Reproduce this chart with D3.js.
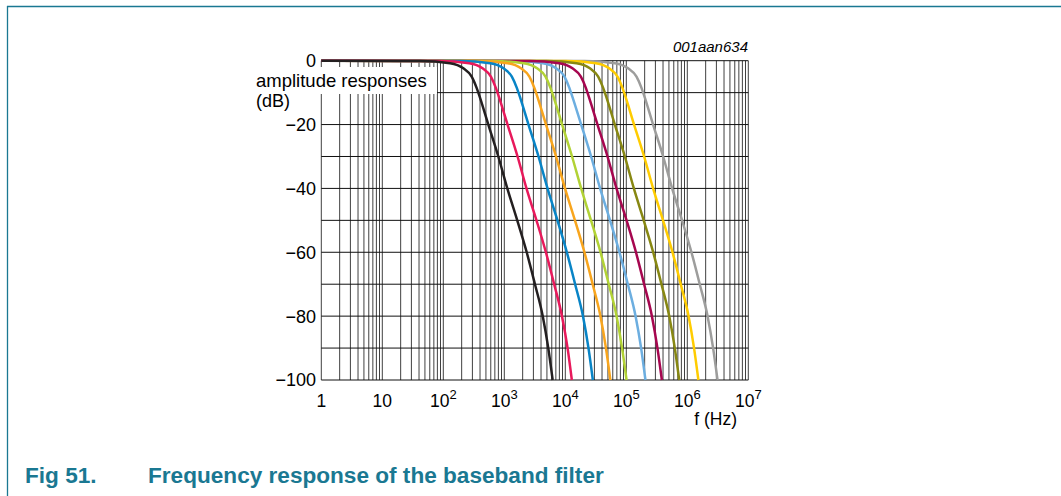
<!DOCTYPE html>
<html>
<head>
<meta charset="utf-8">
<script src="https://cdn.jsdelivr.net/npm/d3@7"></script>
<style>
  body { margin: 0; background: #fff; }
  svg { display: block; font-family: "Liberation Sans", Arial, sans-serif; }
</style>
</head>
<body>
<div id="chart"></div>
<script>
// amplitude levels (dB) shared by every curve
var levels = [0, -0.1, -0.8, -2.4, -5, -8.6, -10, -20, -30, -40, -50, -60, -70, -80, -90, -100];

// frequency (Hz) where each curve reaches the levels above
var fBlack  = [1, 41.5, 129, 213, 292, 353, 375, 547, 798, 1120, 1630, 2330, 3180, 4270, 5260, 6210];
var fPink   = [1, 85.7, 266, 440, 603, 729, 774, 1130, 1650, 2310, 3370, 4810, 6570, 8820, 10900, 12800];
var fBlue   = [1, 189, 588, 971, 1330, 1610, 1710, 2490, 3640, 5110, 7430, 10600, 14500, 19500, 24000, 28300];
var fOrange = [1, 366, 1140, 1880, 2580, 3120, 3310, 4830, 7050, 9890, 14400, 20600, 28100, 37700, 46400, 54800];
var fLime   = [1, 673, 2090, 3450, 4740, 5730, 6080, 8870, 12900, 18200, 26400, 37800, 51600, 69300, 85300, 101000];
var fSky    = [1, 1380, 4280, 7070, 9690, 11700, 12400, 18200, 26500, 37200, 54100, 77300, 106000, 142000, 175000, 206000];
var fMaroon = [1, 2560, 7950, 13100, 18000, 21800, 23100, 33700, 49200, 69100, 101000, 144000, 196000, 263000, 324000, 383000];
var fOlive  = [1, 4920, 15300, 25300, 34600, 41900, 44500, 64900, 94600, 133000, 193000, 276000, 377000, 506000, 624000, 737000];
var fYellow = [1, 10200, 31700, 52300, 71700, 86700, 92100, 134000, 196000, 275000, 400000, 572000, 781000, 1050000, 1290000, 1520000];
var fGrey   = [1, 20900, 65000, 107000, 147000, 178000, 189000, 275000, 402000, 564000, 821000, 1170000, 1600000, 2150000, 2650000, 3130000];

var curveFreqs  = [fGrey, fYellow, fOlive, fSky, fMaroon, fLime, fOrange, fBlue, fPink, fBlack];
var curveColors = ["#9d9d9c", "#ffcc00", "#878712", "#6caee0", "#a6064f", "#b2d235", "#f8a51d", "#0884c6", "#e8195b", "#231f20"];

var yTicks = [0, -20, -40, -60, -80, -100];
var xLabels = [[1, ""], [10, ""], [10, "2"], [10, "3"], [10, "4"], [10, "5"], [10, "6"], [10, "7"]];

var width = 1061, height = 496;
var plotLeft = 321.3, plotRight = 748.3, plotTop = 60.7, plotBottom = 380;

var svg = d3.select("#chart").append("svg")
    .attr("width", width)
    .attr("height", height);

// frame of the figure
var teal = "#1a7892";
svg.append("line").attr("x1", 7).attr("x2", width).attr("y1", 6.5).attr("y2", 6.5)
    .attr("stroke", teal).attr("stroke-width", 1.3);
svg.append("line").attr("x1", 7.5).attr("x2", 7.5).attr("y1", 6).attr("y2", height)
    .attr("stroke", teal).attr("stroke-width", 1.3);

var x = d3.scaleLog().domain([1, 1e7]).range([plotLeft, plotRight]);
var y = d3.scaleLinear().domain([-100, 0]).range([plotBottom, plotTop]);

// grid
var grid = svg.append("g");
grid.selectAll(".vg").data(x.ticks())
    .enter().append("line")
    .attr("x1", function(d) { return x(d); })
    .attr("x2", function(d) { return x(d); })
    .attr("y1", plotTop).attr("y2", plotBottom)
    .attr("stroke", "#404040").attr("stroke-width", 1);
grid.selectAll(".hg").data(y.ticks(10))
    .enter().append("line")
    .attr("x1", plotLeft).attr("x2", plotRight)
    .attr("y1", function(d) { return y(d); })
    .attr("y2", function(d) { return y(d); })
    .attr("stroke", "#111").attr("stroke-width", 1);

// white patch behind the axis title
svg.append("rect").attr("x", 250).attr("y", 67).attr("width", 187).attr("height", 27).attr("fill", "#fff");

// curves
var line = d3.line()
    .x(function(d) { return x(d[0]); })
    .y(function(d) { return y(d[1]); })
    .curve(d3.curveMonotoneX);

svg.append("g").selectAll("path")
    .data(curveFreqs)
    .enter().append("path")
    .attr("d", function(f) { return line(f.map(function(v, i) { return [v, levels[i]]; })); })
    .attr("fill", "none")
    .attr("stroke", function(d, i) { return curveColors[i]; })
    .attr("stroke-width", 2.5)
    .attr("stroke-linejoin", "round");

// y labels
svg.append("g").selectAll("text")
    .data(yTicks)
    .enter().append("text")
    .attr("x", 316)
    .attr("y", function(d) { return y(d); })
    .attr("dy", "0.36em")
    .attr("text-anchor", "end")
    .attr("font-size", 18)
    .text(function(d) { return d === 0 ? "0" : "\u2212" + (-d); });

svg.append("text").attr("x", 256).attr("y", 86.5).attr("font-size", 18.5).text("amplitude responses");
svg.append("text").attr("x", 256).attr("y", 106.5).attr("font-size", 18).text("(dB)");

// x labels
var xl = svg.append("g").selectAll("text")
    .data(xLabels)
    .enter().append("text")
    .attr("x", function(d, i) { return x(Math.pow(10, i)); })
    .attr("y", 406.5)
    .attr("text-anchor", "middle")
    .attr("font-size", 17.5);
xl.append("tspan").text(function(d) { return d[0]; });
xl.append("tspan")
    .attr("dy", -8)
    .attr("font-size", 13)
    .text(function(d) { return d[1]; });

svg.append("text").attr("x", 737).attr("y", 425).attr("text-anchor", "end")
    .attr("font-size", 17.5).text("f (Hz)");
svg.append("text").attr("x", 748).attr("y", 52).attr("text-anchor", "end")
    .attr("font-size", 15).attr("font-style", "italic").text("001aan634");

// caption
svg.append("text").attr("x", 25).attr("y", 483).attr("font-size", 22.6).attr("font-weight", "bold")
    .attr("fill", teal).text("Fig 51.");
svg.append("text").attr("x", 148).attr("y", 483).attr("font-size", 22.6).attr("font-weight", "bold")
    .attr("fill", teal).text("Frequency response of the baseband filter");
</script>
</body>
</html>
